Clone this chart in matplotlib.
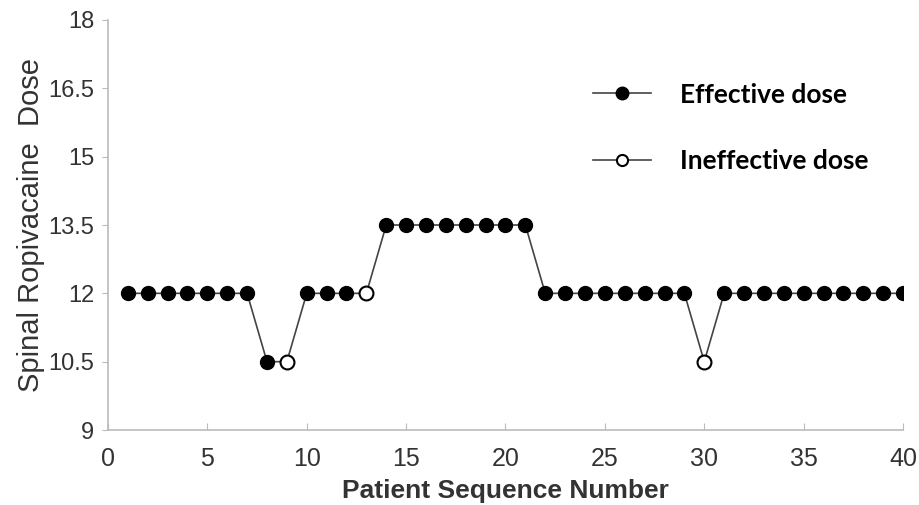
import numpy as np
import matplotlib.pyplot as plt
from matplotlib.lines import Line2D

# Nomor urut pasien
patients = list(range(1, 41))

# Dosis ropivakain spinal tiap pasien
doses = [12, 12, 12, 12, 12, 12, 12, 10.5, 10.5, 12,
         12, 12, 12, 13.5, 13.5, 13.5, 13.5, 13.5, 13.5, 13.5,
         13.5, 12, 12, 12, 12, 12, 12, 12, 12, 10.5,
         12, 12, 12, 12, 12, 12, 12, 12, 12, 12]

# 1 = efektif, 0 = tidak efektif
effective = [1, 1, 1, 1, 1, 1, 1, 1, 0, 1,
             1, 1, 0, 1, 1, 1, 1, 1, 1, 1,
             1, 1, 1, 1, 1, 1, 1, 1, 1, 0,
             1, 1, 1, 1, 1, 1, 1, 1, 1, 1]

x = np.array(patients)
y = np.array(doses)
eff = np.array(effective) == 1

fig = plt.figure(figsize=(9.19, 5.05), dpi=100)
ax = fig.add_axes([0.1175, 0.1485, 0.8651, 0.8119])

ax.plot(x, y, color='#444444', linewidth=1.2, zorder=1)
ax.plot(x[eff], y[eff], 'o', color='black', markersize=10, linestyle='none', zorder=2)
ax.plot(x[~eff], y[~eff], 'o', markerfacecolor='white', markeredgecolor='black',
        markeredgewidth=1.5, markersize=10, linestyle='none', zorder=2)

ax.set_xlim(0, 40)
ax.set_ylim(9, 18)
ax.set_xticks(range(0, 41, 5))
ax.set_yticks([9, 10.5, 12, 13.5, 15, 16.5, 18])
ax.set_yticklabels(['9', '10.5', '12', '13.5', '15', '16.5', '18'])

for s in ['top', 'right']:
    ax.spines[s].set_visible(False)
for s in ['left', 'bottom']:
    ax.spines[s].set_color('#bbbbbb')
    ax.spines[s].set_linewidth(1.2)

ax.tick_params(axis='x', direction='in', length=5, color='#bbbbbb', pad=12,
               labelsize=18, labelcolor='#333333')
ax.tick_params(axis='y', direction='out', length=4, color='#bbbbbb', pad=6,
               labelsize=17, labelcolor='#333333')
for lab in ax.get_xticklabels() + ax.get_yticklabels():
    lab.set_fontfamily('Liberation Sans')

ax.set_xlabel('Patient Sequence Number', fontsize=19, fontweight='bold',
              color='#333333', family='Liberation Sans', labelpad=6)
ax.set_ylabel('Spinal Ropivacaine  Dose', fontsize=21, color='#333333',
              family='Liberation Sans', labelpad=2)

handles = [
    Line2D([], [], color='#444444', linewidth=1.2, marker='o', markersize=9,
           markerfacecolor='black', markeredgecolor='black'),
    Line2D([], [], color='#444444', linewidth=1.2, marker='o', markersize=8,
           markerfacecolor='white', markeredgecolor='black', markeredgewidth=1.5),
]
leg = ax.legend(handles, ['Effective dose', 'Ineffective dose'],
                loc='upper left', bbox_to_anchor=(0.58, 0.905), frameon=False,
                handlelength=2.2, handletextpad=1.1, labelspacing=1.6,
                prop={'family': 'Lato', 'weight': 'bold', 'size': 19})

fig.savefig('out.png', dpi=100)
